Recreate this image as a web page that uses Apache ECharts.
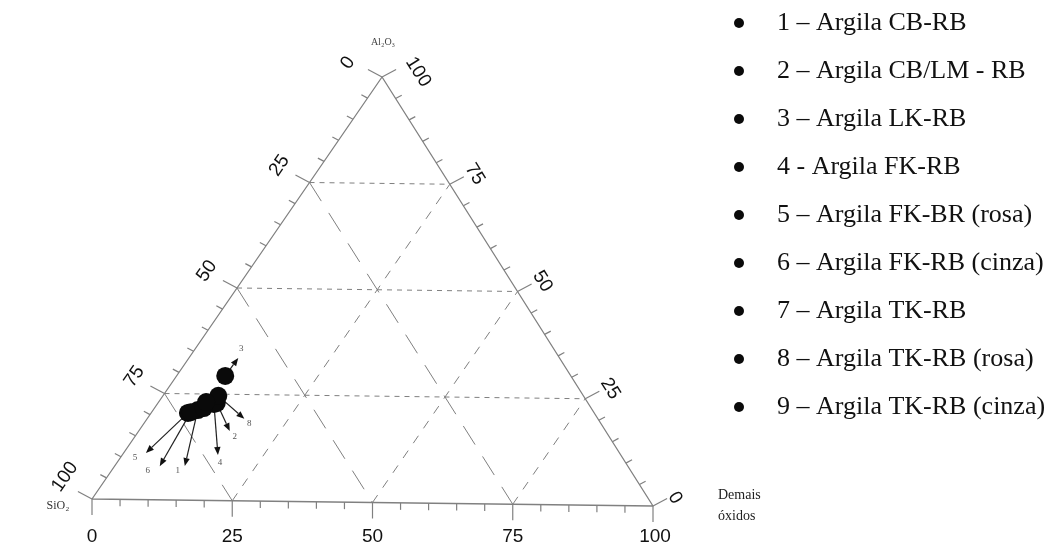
<!DOCTYPE html>
<html><head><meta charset="utf-8">
<script src="https://cdn.jsdelivr.net/npm/echarts@6/dist/echarts.min.js"></script>
<style>html,body{margin:0;padding:0;background:#fff}#c{width:1050px;height:550px}</style>
</head><body><div id="c"></div>
<script>
// ---- data ----
const samples = ['1 – Argila CB-RB', '2 – Argila CB/LM - RB', '3 – Argila LK-RB', '4 - Argila FK-RB',
  '5 – Argila FK-BR (rosa)', '6 – Argila FK-RB (cinza)', '7 – Argila TK-RB', '8 – Argila TK-RB (rosa)', '9 – Argila TK-RB (cinza)'];
const sampleNo = ['1','2','3','4','5','6','7','8','9'];
const sio2   = [70.9, 66.7, 62.1, 67.3, 73.0, 72.4, 69.6, 65.6, 68.5];
const al2o3  = [21.2, 22.9, 29.3, 22.7, 20.5, 20.7, 21.7, 24.6, 23.1];
const demais = [ 7.9, 10.4,  8.6, 10.0,  6.5,  6.9,  8.7,  9.8,  8.4];
const majorTicks = [0, 25, 50, 75, 100];
const gridValues = [25, 50, 75];
const minorStep = 5;
const axisNames = ['Al₂O₃', 'SiO₂', 'Demais', 'óxidos'];

// ---- layout / style (not data) ----
const SHEAR = 0.517;   // apex horizontal position (fraction of base)
const TILT = -0.0166;  // slight slope of the scanned base line
function tern(s, a, d) { return [d + a * SHEAR, a + d * TILT]; }
// arrow annotation offsets in pixels: [sampleIndex, dx, dy, labelDx, labelDy]
const arrowStyle = [
  [2, 13, -18, 3, -9],
  [7, 26, 23, 5, 5],
  [1, 13, 28, 5, 6],
  [3, 4, 51, 2, 8],
  [0, -13, 56, -7, 5],
  [5, -31, 54, -12, 5],
  [4, -42, 40, -11, 5]
];
const LINE = '#808080';
const TXT = '#111';

// side 0: base (Demais), side 1: left (SiO2), side 2: right (Al2O3)
function sidePoint(side, v) {
  if (side === 0) return tern(100 - v, 0, v);
  if (side === 1) return tern(v, 100 - v, 0);
  return tern(0, v, 100 - v);
}
const tickDir = [[0, 1], [-0.88, -0.47], [0.88, -0.47]];

const tickData = [];
for (let side = 0; side < 3; side++) for (let v = 0; v <= 100; v += minorStep) tickData.push([v, side]);
const labelData = [];
for (let side = 0; side < 3; side++) majorTicks.forEach(v => labelData.push([v, side]));
const gridData = [];
gridValues.forEach(v => { for (let f = 0; f < 3; f++) gridData.push([v, f]); });

const chart = echarts.init(document.getElementById('c'), null, {renderer: 'canvas'});

const series = [];
// triangle outline
series.push({
  type: 'line', silent: true, clip: false, symbol: 'none', z: 2,
  data: [tern(100, 0, 0), tern(0, 0, 100), tern(0, 100, 0), tern(100, 0, 0)],
  lineStyle: {color: LINE, width: 1.3}
});
// grid lines
series.push({
  type: 'custom', silent: true, z: 1, data: gridData,
  renderItem: function (params, api) {
    const v = api.value(0), f = api.value(1);
    let p1, p2, dash;
    if (f === 0) { p1 = tern(100 - v, v, 0); p2 = tern(0, v, 100 - v); dash = [5, 5]; }
    else if (f === 1) { p1 = tern(100 - v, 0, v); p2 = tern(0, 100 - v, v); dash = [9, 9]; }
    else { p1 = tern(v, 100 - v, 0); p2 = tern(v, 0, 100 - v); dash = [22, 14]; }
    const a = api.coord(p1), b = api.coord(p2);
    return {type: 'line', shape: {x1: a[0], y1: a[1], x2: b[0], y2: b[1]},
      style: {stroke: LINE, lineWidth: 1, lineDash: dash}};
  }
});
// ticks
series.push({
  type: 'custom', silent: true, z: 2, data: tickData,
  renderItem: function (params, api) {
    const v = api.value(0), side = api.value(1);
    const p = api.coord(sidePoint(side, v));
    const len = (v % 25 === 0) ? 16 : 7;
    const d = tickDir[side];
    return {type: 'line', shape: {x1: p[0], y1: p[1], x2: p[0] + d[0] * len, y2: p[1] + d[1] * len},
      style: {stroke: LINE, lineWidth: 1.2}};
  }
});
// tick labels
series.push({
  type: 'custom', silent: true, z: 3, data: labelData,
  renderItem: function (params, api) {
    const v = api.value(0), side = api.value(1);
    const p = api.coord(sidePoint(side, v));
    const txt = String(v);
    const long = txt.length > 2;
    let x, y, rot;
    if (side === 0) {
      const y0 = api.coord([0, 0])[1];
      x = p[0] + (long ? 2 : 0); y = y0 + 38; rot = 0;
    } else if (side === 1) {
      x = p[0] - 30 + (long ? 3 : 0) - (v === 0 ? 4 : 0);
      y = p[1] - 17 - (long ? 5 : 0) + (v === 0 ? 3 : 0);
      rot = 55.5 * Math.PI / 180;
    } else {
      x = p[0] + 25 + (long ? 11 : 0) - (v === 0 ? 3 : 0);
      y = p[1] - 10 + (long ? 5 : 0) + (v === 0 ? 2 : 0);
      rot = -57.7 * Math.PI / 180;
    }
    return {type: 'text', x: x, y: y, rotation: rot,
      style: {text: txt, fill: TXT, font: '19px "Liberation Sans", Arial, sans-serif', align: 'center', verticalAlign: 'middle'}};
  }
});
// sample points
samples.forEach((name, i) => {
  series.push({
    type: 'scatter', name: name, z: 5, symbol: 'circle', symbolSize: 18,
    itemStyle: {color: '#0a0a0a', opacity: 1},
    data: [tern(sio2[i], al2o3[i], demais[i])]
  });
});
// arrows with sample numbers
series.push({
  type: 'custom', silent: true, z: 4, data: arrowStyle.map(r => [r[0]]),
  renderItem: function (params, api) {
    const r = arrowStyle[params.dataIndex];
    const i = r[0];
    const c = api.coord(tern(sio2[i], al2o3[i], demais[i]));
    const dx = r[1], dy = r[2];
    const L = Math.sqrt(dx * dx + dy * dy), ux = dx / L, uy = dy / L;
    const sx = c[0] + ux * 6, sy = c[1] + uy * 6;
    const tx = c[0] + dx, ty = c[1] + dy;
    const hl = 8, hw = 3.2;
    const bx = tx - ux * hl, by = ty - uy * hl;
    return {type: 'group', children: [
      {type: 'line', shape: {x1: sx, y1: sy, x2: bx, y2: by}, style: {stroke: '#222', lineWidth: 1.2}},
      {type: 'polygon', shape: {points: [[tx, ty], [bx - uy * hw, by + ux * hw], [bx + uy * hw, by - ux * hw]]}, style: {fill: '#111'}},
      {type: 'text', x: tx + r[3], y: ty + r[4],
        style: {text: sampleNo[i], fill: '#555', font: '9px "Liberation Serif", serif', align: 'center', verticalAlign: 'middle'}}
    ]};
  }
});

chart.setOption({
  animation: false,
  backgroundColor: '#fff',
  grid: {left: 92, top: 77, width: 561, height: 422, containLabel: false},
  xAxis: {type: 'value', min: 0, max: 100, show: false},
  yAxis: {type: 'value', min: 0, max: 100, show: false},
  legend: {
    orient: 'vertical', left: 729, top: 4, itemGap: 20,
    icon: 'circle', itemWidth: 10, itemHeight: 10,
    selectedMode: false,
    textStyle: {fontFamily: '"Liberation Serif", "Times New Roman", serif', fontSize: 26, color: TXT,
      lineHeight: 28, padding: [0, 0, 0, 28]},
    data: samples
  },
  graphic: [
    {type: 'text', x: 383, y: 42, style: {text: axisNames[0], fill: '#444', font: '10px "Liberation Serif", serif', align: 'center', verticalAlign: 'middle'}},
    {type: 'text', x: 58, y: 506, style: {text: axisNames[1], fill: '#333', font: '12px "Liberation Serif", serif', align: 'center', verticalAlign: 'middle'}},
    {type: 'text', x: 718, y: 495, style: {text: axisNames[2], fill: '#222', font: '14px "Liberation Serif", serif', align: 'left', verticalAlign: 'middle'}},
    {type: 'text', x: 718, y: 516, style: {text: axisNames[3], fill: '#222', font: '14px "Liberation Serif", serif', align: 'left', verticalAlign: 'middle'}}
  ],
  series: series
});
</script>
</body></html>
